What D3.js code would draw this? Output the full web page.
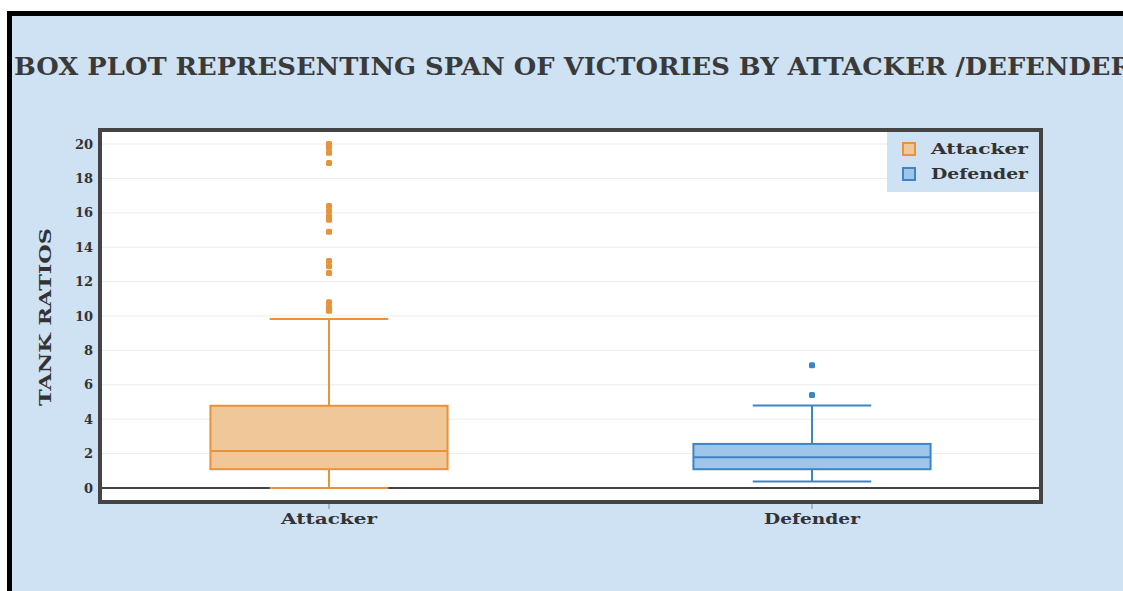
<!DOCTYPE html>
<html><head><meta charset="utf-8">
<script src="https://cdn.jsdelivr.net/npm/d3@7"></script>
<style>
html,body{margin:0;padding:0;background:#fff;overflow:hidden}
svg{display:block}
text{font-family:"DejaVu Serif",serif;font-weight:bold;fill:#333}
</style></head>
<body>
<svg id="chart" width="1123" height="591"></svg>
<script>
// ---- data ----
const categories = ["Attacker", "Defender"];
const q1Values = [1.09, 1.09];
const medianValues = [2.15, 1.78];
const q3Values = [4.78, 2.56];
const lowerFence = [0, 0.37];
const upperFence = [9.83, 4.8];
const attackerOutliers = [20.0, 19.8, 19.5, 18.9, 16.4, 16.1, 15.8, 15.6, 14.9, 13.2, 12.9, 12.5, 10.8, 10.5, 10.3];
const defenderOutliers = [5.4, 7.13];
const outliers = [attackerOutliers, defenderOutliers];
const yTicks = [0, 2, 4, 6, 8, 10, 12, 14, 16, 18, 20];
const titleText = "BOX PLOT REPRESENTING SPAN OF VICTORIES BY ATTACKER /DEFENDER";
const yTitle = "TANK RATIOS";

const lineColors = ["#e8923a", "#3d85c6"];
const fillColors = ["#f0c799", "#9fc5e8"];

const svg = d3.select("#chart");
const W = 1123, H = 591;

// outer frame
svg.append("rect").attr("x", 9.5).attr("y", 13.5).attr("width", 1200).attr("height", 700)
  .attr("fill", "#cfe2f3").attr("stroke", "#000").attr("stroke-width", 5);

// title
svg.append("text").attr("x", 14).attr("y", 75)
  .attr("font-size", 24).attr("textLength", 1118).attr("lengthAdjust", "spacingAndGlyphs")
  .style("fill", "#3a3a3a").text(titleText);

// plot area
const px0 = 102, px1 = 1039, py0 = 132, py1 = 500;
const x = d3.scaleBand().domain(categories).range([px0, px1]).paddingInner(0.509).paddingOuter(0.2245);
const y = d3.scaleLinear().domain([-0.7, 20.7]).range([py1, py0]);

svg.append("rect").attr("x", px0).attr("y", py0).attr("width", px1 - px0).attr("height", py1 - py0).attr("fill", "#fff");

// grid
const g = svg.append("g");
g.selectAll("line.grid").data(yTicks.filter(d => d !== 0)).enter().append("line")
  .attr("x1", px0).attr("x2", px1).attr("y1", d => y(d)).attr("y2", d => y(d))
  .attr("stroke", "#ececec").attr("stroke-width", 1);
// zero line
g.append("line").attr("x1", px0).attr("x2", px1).attr("y1", y(0)).attr("y2", y(0))
  .attr("stroke", "#444").attr("stroke-width", 2);

// y axis
const yAxis = d3.axisLeft(y).tickValues(yTicks).tickSize(0).tickPadding(9);
const ya = svg.append("g").attr("transform", `translate(${px0},0)`).call(yAxis);
ya.select(".domain").remove();
ya.selectAll("text").attr("font-size", 13).style("font-family", "'DejaVu Serif',serif").style("font-weight", "bold").style("fill", "#333");

// x axis
const xAxis = d3.axisBottom(x).tickSize(0).tickPadding(14);
const xa = svg.append("g").attr("transform", `translate(0,${py1})`).call(xAxis);
xa.select(".domain").remove();
xa.selectAll("text").attr("font-size", 14).style("font-family", "'DejaVu Serif',serif").style("font-weight", "bold").style("fill", "#333")
  .attr("textLength", 96).attr("lengthAdjust", "spacingAndGlyphs");

// small tick marks below plot
svg.selectAll("line.xt").data(categories).enter().append("line")
  .attr("x1", d => x(d) + x.bandwidth() / 2).attr("x2", d => x(d) + x.bandwidth() / 2)
  .attr("y1", py1 + 4).attr("y2", py1 + 9).attr("stroke", "#888").attr("stroke-width", 1);

// boxes
const bw = x.bandwidth();
categories.forEach((c, i) => {
  const cx = x(c) + bw / 2;
  const bg = svg.append("g");
  // whiskers
  bg.append("line").attr("x1", cx).attr("x2", cx).attr("y1", y(q3Values[i])).attr("y2", y(upperFence[i]))
    .attr("stroke", lineColors[i]).attr("stroke-width", 2);
  bg.append("line").attr("x1", cx).attr("x2", cx).attr("y1", y(q1Values[i])).attr("y2", y(lowerFence[i]))
    .attr("stroke", lineColors[i]).attr("stroke-width", 2);
  [upperFence[i], lowerFence[i]].forEach(v => {
    bg.append("line").attr("x1", cx - bw / 4).attr("x2", cx + bw / 4).attr("y1", y(v)).attr("y2", y(v))
      .attr("stroke", lineColors[i]).attr("stroke-width", 2);
  });
  // box
  bg.append("rect").attr("x", x(c)).attr("width", bw).attr("y", y(q3Values[i])).attr("height", y(q1Values[i]) - y(q3Values[i]))
    .attr("fill", fillColors[i]).attr("stroke", lineColors[i]).attr("stroke-width", 2);
  bg.append("line").attr("x1", x(c)).attr("x2", x(c) + bw).attr("y1", y(medianValues[i])).attr("y2", y(medianValues[i]))
    .attr("stroke", lineColors[i]).attr("stroke-width", 2);
  // outliers
  bg.selectAll("rect.o").data(outliers[i]).enter().append("rect")
    .attr("x", cx - 3).attr("y", d => y(d) - 3).attr("width", 6).attr("height", 6).attr("rx", 1.5)
    .attr("fill", lineColors[i]);
});

// plot border
svg.append("rect").attr("x", px0 - 2).attr("y", py0 - 2).attr("width", px1 - px0 + 4).attr("height", py1 - py0 + 4)
  .attr("fill", "none").attr("stroke", "#444").attr("stroke-width", 4);

// legend
const lg = svg.append("g");
lg.append("rect").attr("x", 887).attr("y", py0).attr("width", px1 - 887).attr("height", 60).attr("fill", "#cfe2f3");
categories.forEach((c, i) => {
  const ly = 149 + i * 25;
  lg.append("rect").attr("x", 903).attr("y", ly - 6).attr("width", 12).attr("height", 12)
    .attr("fill", fillColors[i]).attr("stroke", lineColors[i]).attr("stroke-width", 2);
  lg.append("text").attr("x", 931).attr("y", ly + 5).attr("font-size", 15)
    .attr("textLength", 97).attr("lengthAdjust", "spacingAndGlyphs").text(c);
});

// y title
svg.append("text").attr("transform", "translate(51,317) rotate(-90)").attr("text-anchor", "middle")
  .attr("font-size", 17).attr("textLength", 178).attr("lengthAdjust", "spacingAndGlyphs").text(yTitle);
</script>
</body></html>
